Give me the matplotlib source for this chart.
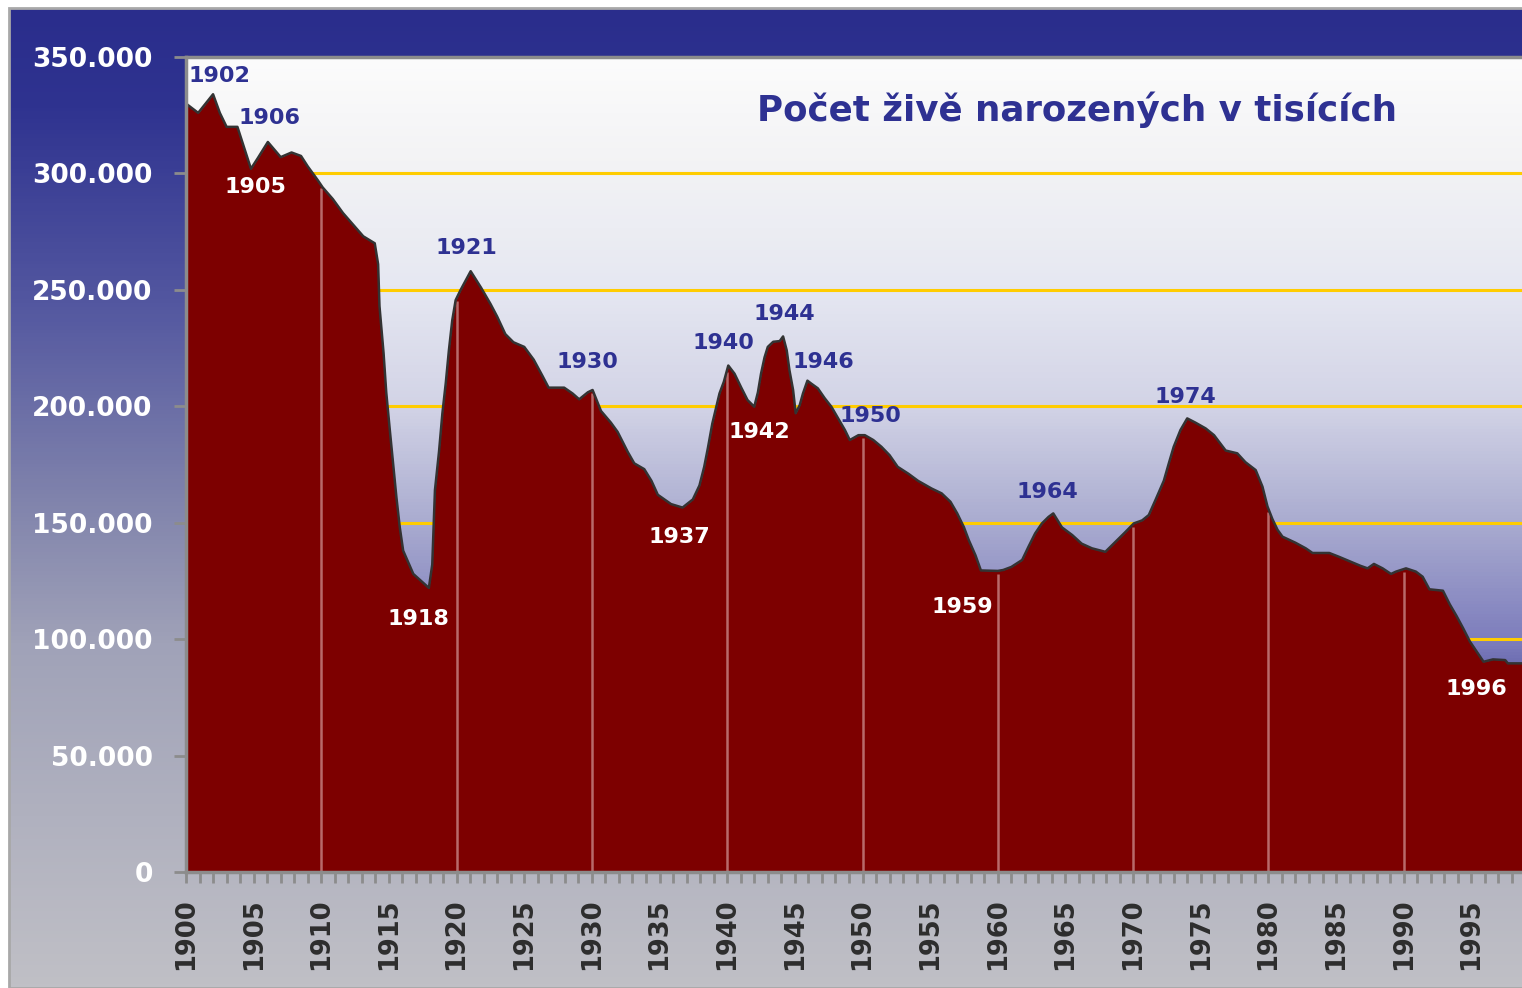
# Pocet zive narozenych 1900-1999 (Czech live births, thousands)
# Area chart on a gradient frame, redrawn with matplotlib.
#===============================================================================

import numpy as np
import matplotlib.pyplot as plt
from matplotlib.colors import LinearSegmentedColormap
from matplotlib.patches import Rectangle

#===============================================================================
# Data (read off the outline of the area, years may be fractional)
#===============================================================================

years = [1900.0, 1900.9, 1902.0, 1902.5, 1903.0, 1903.8, 1904.8, 1905.3, 1906.05,
         1907.0, 1907.8, 1908.5, 1909.0, 1909.75, 1910.1, 1910.85, 1911.6,
         1912.2, 1913.1, 1913.95, 1914.2, 1914.3, 1914.6, 1914.8, 1915.06,
         1915.3, 1915.55, 1915.8, 1916.05, 1916.8, 1917.95, 1918.2, 1918.4,
         1918.7, 1918.95, 1919.2, 1919.43, 1919.68, 1919.93, 1920.3, 1920.67,
         1921.04, 1921.8, 1922.5, 1923.0, 1923.6, 1924.2, 1925.0, 1925.7,
         1926.35, 1926.8, 1927.95, 1928.57, 1929.06, 1929.7, 1930.05, 1930.67,
         1931.4, 1931.9, 1932.64, 1933.13, 1933.87, 1934.4, 1934.87, 1935.85,
         1936.7, 1937.46, 1937.95, 1938.3, 1938.57, 1938.9, 1939.2, 1939.43,
         1939.75, 1940.08, 1940.54, 1941.04, 1941.5, 1942.0, 1942.27, 1942.5,
         1942.76, 1943.0, 1943.4, 1943.88, 1944.13, 1944.4, 1944.6, 1944.87,
         1945.06, 1945.36, 1945.6, 1945.93, 1946.2, 1946.7, 1947.2, 1947.7,
         1948.2, 1948.7, 1949.06, 1949.7, 1950.17, 1950.8, 1951.4, 1952.0,
         1952.6, 1953.4, 1954.1, 1955.1, 1955.85, 1956.5, 1957.0, 1957.5,
         1957.85, 1958.35, 1958.75, 1960.0, 1960.4, 1961.0, 1961.8, 1962.27,
         1962.76, 1963.26, 1963.75, 1964.1, 1964.74, 1965.5, 1966.2, 1966.96,
         1967.95, 1968.7, 1969.43, 1970.05, 1970.67, 1971.16, 1971.65, 1972.27,
         1972.64, 1973.0, 1973.5, 1974.0, 1974.6, 1975.36, 1975.98, 1976.84,
         1977.7, 1978.3, 1979.06, 1979.56, 1979.93, 1980.3, 1980.67, 1981.04,
         1982.0, 1982.76, 1983.26, 1984.5, 1985.2, 1985.97, 1986.8, 1987.33,
         1987.8, 1988.44, 1989.06, 1989.43, 1990.17, 1990.9, 1991.4, 1991.9,
         1992.9, 1993.4, 1993.9, 1994.4, 1994.9, 1995.4, 1995.9, 1996.6,
         1997.5, 1997.7, 1999.0]

births_k = [330, 326, 334, 326, 320, 320, 302, 306.5, 313.5,
            307, 309, 307.5, 303, 297, 294, 289, 283,
            279, 273, 270, 261, 243, 223, 206, 190,
            176, 161, 148, 138, 128, 122, 132, 164,
            180.5, 197, 210, 224, 237, 245.6, 250, 254,
            258, 251, 244, 238.5, 231, 227.5, 225.5, 220,
            213, 208, 208, 205.5, 203, 206, 207, 198,
            193, 189, 180.5, 175.5, 173, 168, 162, 158,
            156.5, 160, 166, 174, 182, 192.6, 199.8, 205.5,
            210.5, 217.5, 214, 208, 202.7, 199.8, 206, 214,
            221, 225.5, 227.7, 228, 230, 224, 215.5, 207,
            197, 200.5, 205.5, 211, 209.8, 207.7, 203.5, 199.8,
            194.8, 189.8, 185.5, 187.6, 187.6, 185.5, 182.6, 179,
            174, 171, 168, 164.7, 162.6, 159, 154, 148,
            142.6, 136, 129.5, 129.3, 129.7, 131, 134, 139.7,
            145.4, 149.7, 152.5, 154, 148, 144.7, 141, 139,
            137.5, 141.8, 146, 149.7, 151, 153.3, 159.7, 168,
            175.5, 182.6, 189.8, 194.8, 193, 190.5, 187.6, 181,
            179.8, 176, 172.6, 165.5, 157, 151.5, 147, 144,
            141.4, 139, 137, 137, 135.4, 133.5, 131.5, 130.4,
            132.3, 130.4, 128, 129, 130.4, 129, 126.8, 121.4,
            120.8, 115, 110, 104.6, 98.9, 94.6, 90.3, 91.3,
            91, 89.6, 89.6]

decades = [1910, 1920, 1930, 1940, 1950, 1960, 1970, 1980, 1990]
grid_values = [100000, 150000, 200000, 250000, 300000]
ytick_values = [0, 50000, 100000, 150000, 200000, 250000, 300000, 350000]
xtick_years = list(range(1900, 1999, 5))

title = 'Počet živě narozených v tisících'

peak_labels = ['1902', '1906', '1921', '1930', '1940', '1944', '1946', '1950',
               '1964', '1974']
trough_labels = ['1905', '1918', '1937', '1942', '1959', '1996']

#===============================================================================
# Layout
#===============================================================================

W, H = 1522, 988
X0, X1 = 1900, 1900 + (W - 186) / 13.53

# label centres in data coordinates (year, persons)
peak_pos = [(1902.45, 342000), (1906.2, 324000), (1920.7, 268000),
            (1929.7, 219000), (1939.75, 227000), (1944.25, 239500),
            (1947.1, 219000), (1950.55, 196000), (1963.7, 163000),
            (1973.85, 204000)]
trough_pos = [(1905.1, 294000), (1917.2, 108500), (1936.5, 144000),
              (1942.4, 189000), (1957.35, 114000), (1995.35, 78500)]

BLUE = '#2e3192'

births = np.array(births_k) * 1000.0

fig = plt.figure(figsize=(W / 100, H / 100), dpi=100)
fig.patch.set_facecolor('white')

# ------------------------------------------------------------------
# Frame with vertical gradient (navy -> grey)
# ------------------------------------------------------------------
frame_cmap = LinearSegmentedColormap.from_list('frame', [
    (0.0, '#2a2d8c'), (0.1, '#2f3390'), (0.3, '#5357a0'),
    (0.5, '#8083ac'), (0.65, '#a0a2b8'), (1.0, '#c0c0c6')])
bg = fig.add_axes([10 / W, 0, 1 - 10 / W, 1 - 9 / H])
bg.imshow(np.linspace(0, 1, 256).reshape(-1, 1), cmap=frame_cmap,
          aspect='auto', extent=[0, 1, 0, 1])
bg.set_axis_off()
fig.patches.append(Rectangle((9 / W, 0), 1, 1 - 8 / H, transform=fig.transFigure,
                             fill=False, edgecolor='#a8a8a8', lw=2))

# ------------------------------------------------------------------
# Plot area
# ------------------------------------------------------------------
ax = fig.add_axes([186 / W, 1 - 872 / H, (W - 186) / W, (872 - 57) / H])
ax.patch.set_alpha(0)

plot_cmap = LinearSegmentedColormap.from_list('plot', [
    (0.0, '#fcfcfc'), (0.14, '#f2f2f4'), (0.28, '#e6e8f2'),
    (0.43, '#d2d3e6'), (0.57, '#aaacd0'), (0.72, '#7c7cbc'),
    (0.75, '#6c6cb0'), (1.0, '#5050a0')])
ax.imshow(np.linspace(0, 1, 256).reshape(-1, 1), cmap=plot_cmap,
          aspect='auto', extent=[X0, X1, 0, 350000], origin='upper', zorder=0)

for v in grid_values:
    ax.axhline(v, color='#ffcc00', lw=2.2, zorder=1)

ax.fill_between(years, births, 0, color='#7d0000', lw=0, zorder=3)
ax.plot(years, births, color='#333333', lw=1.8, zorder=5)

tops = np.interp(decades, years, births) - 1200
ax.vlines(decades, 0, tops, color='#b86a6a', lw=1.8, zorder=4)

ax.set_xlim(X0, X1)
ax.set_ylim(0, 350000)

# ------------------------------------------------------------------
# Axes, ticks
# ------------------------------------------------------------------
for side in ('left', 'bottom', 'top'):
    ax.spines[side].set_color('#8c8c8c')
    ax.spines[side].set_linewidth(2.5)
    ax.spines[side].set_zorder(6)
ax.spines['right'].set_visible(False)

ax.set_xticks(xtick_years)
ax.set_xticks(range(1900, 1999), minor=True)
ax.set_xticklabels([str(y) for y in xtick_years], rotation=90,
                   fontweight='bold', fontsize=18.5, color='#2d2d2d')
ax.tick_params(axis='x', which='both', direction='out', length=8, width=2,
               color='#8c8c8c', pad=11)

ax.set_yticks(ytick_values)
ax.set_yticklabels(['{:,}'.format(v).replace(',', '.') for v in ytick_values],
                   fontweight='bold', fontsize=19, color='white')
ax.tick_params(axis='y', direction='out', length=9, width=2,
               color='#8c8c8c', pad=15)

# ------------------------------------------------------------------
# Year labels and title
# ------------------------------------------------------------------
for lab, (x, y) in zip(peak_labels, peak_pos):
    ax.text(x, y, lab, ha='center', va='center', color=BLUE,
            fontsize=16, fontweight='bold', zorder=7)
for lab, (x, y) in zip(trough_labels, trough_pos):
    ax.text(x, y, lab, ha='center', va='center', color='white',
            fontsize=16, fontweight='bold', zorder=7)

fig.text(1077 / W, 1 - 110 / H, title, ha='center', va='center',
         color=BLUE, fontweight='bold', fontsize=25.7)

fig.savefig('out.png', dpi=100)
